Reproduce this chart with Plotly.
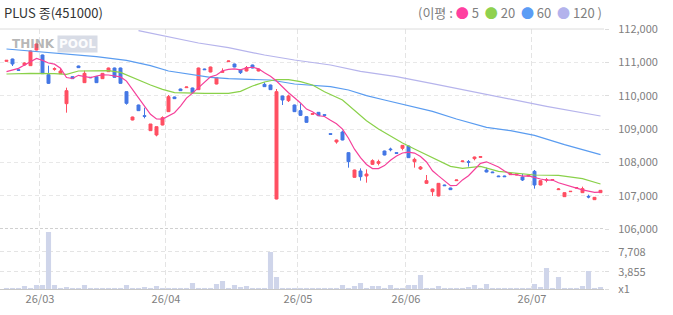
import plotly.graph_objects as go
import pandas as pd

title_text = "PLUS 종(451000)"
holidays = ["2026-03-02", "2026-05-01", "2026-05-05", "2026-05-25", "2026-06-03"]
dates = [d for d in pd.bdate_range("2026-02-20", "2026-07-16") if d.strftime("%Y-%m-%d") not in holidays]

opens = [111030, 111100, 110780, 110920, 110900, 111370, 111220, 110630, 110790, 110660,
         109760, 110570, 110890, 110390, 110550, 110570, 110510, 110720, 110830, 110830,
         110120, 109270, 109720, 109400, 108950, 108820, 109120, 109520, 109960, 110200,
         110240, 110230, 110180, 110800, 110710, 110350, 110700, 111020, 110950, 110770,
         110740, 110920, 110740, 110340, 110320, 106900, 109990, 109850, 109720, 109550,
         109370, 109440, 109500, 109430, 108860, 108610, 108910, 108290, 107550, 107740,
         107590, 107940, 107970, 108340, 108400, 108290, 108420, 108490, 108020, 107800,
         107370, 107120, 106990, 107320, 107230, 107450, 108020, 108020, 108110, 108150,
         107770, 107710, 107590, 107590, 107630, 107620, 107560, 107590, 107730, 107320,
         107460, 107470, 107180, 106970, 107120, 107230, 107090, 106980, 106880, 107090]
highs = [111070, 111110, 110790, 111000, 111350, 111560, 111230, 110900, 110850, 110830,
         110240, 110580, 110900, 110750, 110560, 110580, 110680, 110840, 110840, 110840,
         110130, 109370, 109730, 109640, 109150, 109070, 109380, 110020, 109970, 110210,
         110270, 110240, 110840, 110810, 110870, 110550, 110820, 111050, 110960, 110780,
         110890, 110930, 110810, 110400, 110330, 110200, 110000, 110030, 109730, 109770,
         109380, 109470, 109510, 109440, 108870, 108680, 108950, 108300, 107780, 107820,
         107790, 108090, 108080, 108350, 108440, 108300, 108520, 108500, 108140, 107890,
         107620, 107210, 107380, 107330, 107240, 107480, 108050, 108070, 108170, 108180,
         107840, 107720, 107600, 107600, 107670, 107660, 107650, 107620, 107770, 107460,
         107530, 107490, 107230, 107100, 107140, 107250, 107270, 107030, 106960, 107170]
lows = [111020, 110890, 110750, 110900, 110890, 111360, 110650, 110350, 110750, 110650,
        109490, 110500, 110830, 110380, 110530, 110380, 110500, 110710, 110540, 110360,
        109730, 109260, 109540, 109320, 108940, 108780, 109110, 109510, 109900, 110140,
        110230, 110060, 110170, 110770, 110700, 110340, 110690, 111010, 110850, 110650,
        110730, 110820, 110730, 110260, 110170, 106890, 109720, 109810, 109510, 109390,
        109190, 109430, 109390, 109400, 108830, 108560, 108660, 107840, 107540, 107450,
        107390, 107920, 107910, 108210, 108330, 108260, 108360, 108130, 107840, 107770,
        107360, 106990, 106980, 107290, 107170, 107440, 108010, 107870, 108060, 108140,
        107700, 107680, 107560, 107560, 107620, 107610, 107440, 107580, 107210, 107310,
        107400, 107460, 107170, 106960, 107110, 107220, 107080, 106920, 106870, 107080]
closes = [111060, 110950, 110760, 110980, 111340, 111550, 110660, 110370, 110810, 110740,
          110150, 110510, 110840, 110670, 110540, 110390, 110670, 110830, 110550, 110370,
          109770, 109360, 109550, 109380, 109150, 109070, 109340, 109970, 109910, 110150,
          110260, 110090, 110830, 110780, 110860, 110540, 110730, 111040, 110860, 110690,
          110840, 110830, 110800, 110270, 110180, 110120, 109870, 109990, 109520, 109410,
          109200, 109460, 109400, 109410, 108840, 108670, 108670, 108020, 107770, 107570,
          107650, 108050, 108020, 108220, 108380, 108270, 108510, 108140, 108090, 107860,
          107450, 107200, 107370, 107300, 107180, 107470, 108040, 108000, 108160, 108170,
          107710, 107690, 107570, 107570, 107660, 107650, 107470, 107610, 107320, 107450,
          107480, 107480, 107200, 107090, 107130, 107240, 107210, 106960, 106950, 107160]
volumes = [720, 720, 720, 1100, 720, 1290, 1290, 11500, 1290, 720,
           900, 720, 720, 1290, 720, 720, 720, 720, 720, 720,
           1290, 720, 720, 900, 720, 1100, 720, 720, 720, 720,
           720, 1680, 720, 720, 720, 1480, 2060, 720, 1290, 900,
           1100, 720, 720, 720, 7650, 2830, 720, 720, 720, 720,
           720, 720, 720, 720, 720, 720, 1290, 720, 1100, 1680,
           720, 1100, 1100, 720, 1290, 720, 720, 1290, 1290, 3220,
           720, 720, 1100, 720, 720, 720, 720, 900, 1290, 720,
           1480, 720, 720, 720, 720, 720, 720, 720, 1480, 900,
           4570, 720, 2830, 720, 720, 720, 1100, 3990, 720, 900]

ma5_head = [110720, 110770, 110820, 110920]
ma20_k = [0, 4, 8, 10, 12, 17, 19, 21, 23, 24, 26, 28, 33, 37, 39, 41, 43, 45, 47, 49, 51, 53, 56, 58,
          60, 62, 64, 66, 68, 70, 72, 74, 76, 79, 82, 85, 88, 92, 96, 99]
ma20_v = [110650, 110670, 110660, 110640, 110740, 110750, 110700, 110550, 110390, 110320, 110190,
          110090, 110070, 110070, 110130, 110290, 110410, 110485, 110480, 110420, 110320, 110120,
          109870, 109560, 109250, 109000, 108780, 108580, 108400, 108230, 108050, 107880, 107820,
          107880, 107730, 107680, 107620, 107610, 107510, 107350]
ma60_k = [0, 5, 10, 15, 20, 24, 27, 31, 34, 37, 41, 44, 48, 51, 54, 57, 60, 63, 66, 71, 75, 80, 84,
          88, 93, 99]
ma60_v = [111400, 111320, 111260, 111170, 111060, 110900, 110740, 110640, 110550, 110510, 110490,
          110470, 110350, 110320, 110270, 110170, 110000, 109870, 109750, 109530, 109300, 109050,
          108950, 108810, 108530, 108230]
ma120_k = [22, 27, 32, 37, 43, 48, 54, 59, 65, 71, 82, 90, 99]
ma120_v = [111950, 111760, 111580, 111440, 111220, 111070, 110920, 110730, 110570, 110360, 109960,
           109680, 109390]

price_ticks = [106000, 107000, 108000, 109000, 110000, 111000, 112000]
vol_ticks = [520, 3855, 7708]
vol_tick_text = ["x1", "3,855", "7,708"]

RED = "#ff4f62"
BLUE = "#4477e5"
C5, C20, C60, C120 = "#f5409a", "#8ad14a", "#5a9cf0", "#b6b4ec"
FONT = "Noto Sans CJK KR"

idx = list(range(len(dates)))
ma5 = ma5_head + [sum(closes[i - 4:i + 1]) / 5 for i in range(4, len(closes))]

# month starts (first trading day of each full month)
month_pos, month_txt = [], []
for i in range(1, len(dates)):
    if dates[i].month != dates[i - 1].month:
        month_pos.append(i - 0.42)
        month_txt.append(dates[i].strftime("%y/%m"))

fig = go.Figure()
fig.add_trace(go.Bar(x=idx, y=volumes, marker=dict(color="#cfd5ea", line=dict(width=0)),
                     xaxis="x", yaxis="y", hoverinfo="skip"))
fig.add_trace(go.Candlestick(
    x=idx, open=opens, high=highs, low=lows, close=closes,
    increasing=dict(line=dict(color=RED, width=1), fillcolor=RED),
    decreasing=dict(line=dict(color=BLUE, width=1), fillcolor=BLUE),
    whiskerwidth=0, xaxis="x2", yaxis="y2", hoverinfo="skip"))
for xs, ys, col in [(ma120_k, ma120_v, C120), (ma60_k, ma60_v, C60),
                    (ma20_k, ma20_v, C20), (idx, ma5, C5)]:
    fig.add_trace(go.Scatter(x=xs, y=ys, mode="lines", line=dict(color=col, width=1.2),
                             xaxis="x2", yaxis="y2", hoverinfo="skip"))

xr = [-1.083, 99.583]
grid_kw = dict(showgrid=True, gridcolor="#e4e4e4", griddash="5px,3px", gridwidth=1)
fig.update_layout(
    width=673, height=315, margin=dict(l=0, r=69, t=29, b=26),
    paper_bgcolor="white", plot_bgcolor="white", showlegend=False,
    bargap=0.15, boxgap=0.3,
    font=dict(family=FONT, size=11, color="#808080"),
    xaxis=dict(domain=[0, 1], range=xr, tickvals=month_pos, ticktext=month_txt,
               ticks="", showline=True, linecolor="#c8c8c8", linewidth=1, zeroline=False,
               tickfont=dict(size=11, color="#808080"), anchor="y",
               rangeslider=dict(visible=False), **grid_kw),
    xaxis2=dict(domain=[0, 1], range=xr, tickvals=month_pos, showticklabels=False,
                ticks="", showline=False, zeroline=False, anchor="y2", matches="x",
                rangeslider=dict(visible=False), **grid_kw),
    yaxis=dict(domain=[0, 59 / 260], range=[520, 11886], side="right", anchor="x",
               tickvals=vol_ticks, ticktext=vol_tick_text, ticks="outside", ticklen=4,
               tickcolor="#dddddd", ticklabelstandoff=7, zeroline=False,
               showgrid=True, gridcolor="#e4e4e4", griddash="4px,3px",
               tickfont=dict(size=11, color="#808080")),
    yaxis2=dict(domain=[60 / 260, 1], range=[106000, 112000], side="right", anchor="x2",
                tickvals=price_ticks, ticktext=[f"{v:,}" for v in price_ticks],
                ticks="outside", ticklen=4, tickcolor="#dddddd", ticklabelstandoff=7,
                zeroline=False, showgrid=True, gridcolor="#e8e8e8", griddash="4px,3px",
                tickfont=dict(size=11, color="#808080")),
)
# top border and panel separator
fig.add_shape(type="line", xref="paper", yref="paper", x0=0, x1=1, y0=1, y1=1,
              line=dict(color="#dcdcdc", width=1))
fig.add_shape(type="line", xref="paper", yref="y2", x0=0, x1=1, y0=106000, y1=106000,
              line=dict(color="#a0a0a0", width=1, dash="3px,2px"))

def py(px):
    return (289 - px) / 260

fig.add_annotation(text=title_text, xref="paper", yref="paper", x=2 / 604, y=py(12),
                   xanchor="left", yanchor="middle", showarrow=False,
                   font=dict(family=FONT, size=13, color="#333333"))
legend = ("(이평 : <span style='color:%s'>●</span> 5 \u00a0<span style='color:%s'>●</span> 20 "
          "\u00a0<span style='color:%s'>●</span> 60 \u00a0<span style='color:%s'>●</span> 120 )"
          % ("#ff3fa0", "#8fd14f", "#5b9cf5", "#b3b3ec"))
fig.add_annotation(text=legend, xref="paper", yref="paper", x=1.0, y=py(12),
                   xanchor="right", yanchor="middle", showarrow=False,
                   font=dict(family=FONT, size=13, color="#808080"))
fig.add_annotation(text="<b>THINK</b>", xref="paper", yref="paper", x=10 / 604, y=py(44),
                   xanchor="left", yanchor="middle", showarrow=False,
                   font=dict(family="DejaVu Sans", size=12, color="rgba(120,120,120,0.55)"))
fig.add_annotation(text="<b>POOL</b>", xref="paper", yref="paper", x=57 / 604, y=py(44),
                   xanchor="left", yanchor="middle", showarrow=False, borderpad=1,
                   bgcolor="rgba(190,196,214,0.6)",
                   font=dict(family="DejaVu Sans", size=12, color="rgba(255,255,255,0.95)"))

fig.write_html("out.html")
